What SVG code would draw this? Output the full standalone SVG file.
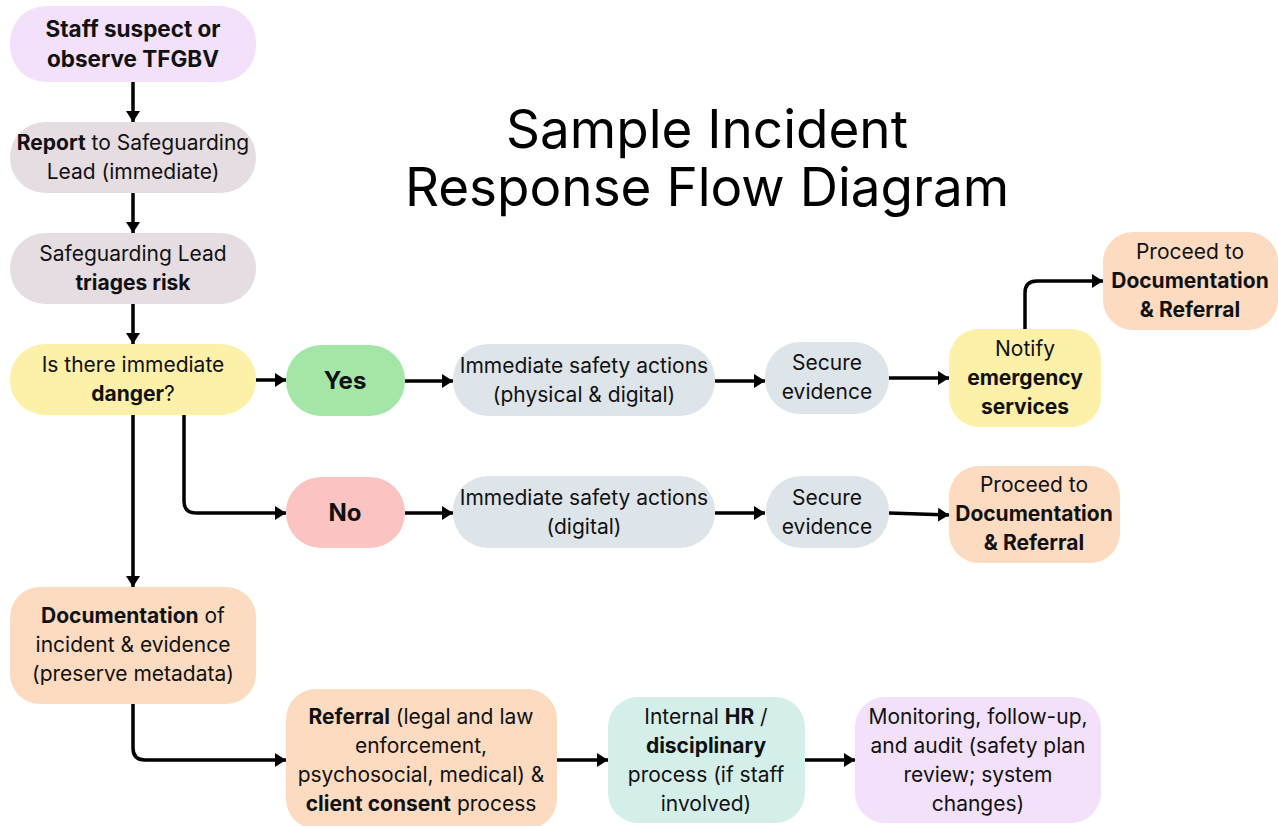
<svg xmlns="http://www.w3.org/2000/svg" width="1278" height="826" viewBox="0 0 1278 826">
<defs>
<marker id="ah" markerUnits="userSpaceOnUse" markerWidth="12" markerHeight="14" refX="11" refY="7" orient="auto">
<path d="M0,0 L11,7 L0,14 Z" fill="#000"/>
</marker>
<style>
text{font-family:Inter,"Noto Sans","Liberation Sans",sans-serif;font-size:21px;fill:#111;text-anchor:middle}
.b{font-weight:700}
.big{font-size:22.5px}
.yn{font-size:24px;font-weight:700}
.title{font-size:53px;fill:#000}
.c{fill:none;stroke:#000;stroke-width:3.5;marker-end:url(#ah)}
.purple{fill:#f3e1fb}
.grey{fill:#e6dde3}
.yellow{fill:#fdf0a8}
.green{fill:#a3e6a7}
.red{fill:#fcc3c3}
.blue{fill:#dee5ea}
.peach{fill:#fddbc0}
.teal{fill:#d4efea}
</style>
</defs>
<rect width="1278" height="826" fill="#fff"/>
<g id="title">
<text class="title" x="707" y="148">Sample Incident<tspan x="707" dy="58">Response Flow Diagram</tspan></text>
</g>
<g id="connectors">
<path class="c" d="M133 82 V122"/>
<path class="c" d="M133 193 V233"/>
<path class="c" d="M133 304 V344"/>
<path class="c" d="M256 380 H286"/>
<path class="c" d="M184 415 V501 Q184 513 196 513 H286"/>
<path class="c" d="M133 415 V587"/>
<path class="c" d="M405 381 H453"/>
<path class="c" d="M405 513 H453"/>
<path class="c" d="M715 381 H765"/>
<path class="c" d="M715 513 H765"/>
<path class="c" d="M889 378 H949"/>
<path class="c" d="M889 513 L949 515"/>
<path class="c" d="M1025 329 V293 Q1025 281 1037 281 H1103"/>
<path class="c" d="M133 704 V748 Q133 760 145 760 H286"/>
<path class="c" d="M557 760 H608"/>
<path class="c" d="M805 760 H855"/>
</g>
<g id="n1"><rect class="purple" x="10" y="6" width="246" height="76" rx="36"/>
<text class="b big" x="133" y="37">Staff suspect or</text><text class="b big" x="133" y="67">observe TFGBV</text></g>
<g id="n2"><rect class="grey" x="10" y="122" width="246" height="71" rx="35"/>
<text x="133" y="150"><tspan class="b">Report</tspan> to Safeguarding</text><text x="133" y="179">Lead (immediate)</text></g>
<g id="n3"><rect class="grey" x="10" y="233" width="246" height="71" rx="35"/>
<text x="133" y="261">Safeguarding Lead</text><text class="b" x="133" y="290">triages risk</text></g>
<g id="n4"><rect class="yellow" x="10" y="344" width="246" height="71" rx="35"/>
<text x="133" y="372">Is there immediate</text><text x="133" y="401"><tspan class="b">danger</tspan>?</text></g>
<g id="yes"><rect class="green" x="286" y="345" width="119" height="71" rx="35"/>
<text class="yn" x="345" y="389">Yes</text></g>
<g id="no"><rect class="red" x="286" y="477" width="119" height="71" rx="35"/>
<text class="yn" x="345" y="521">No</text></g>
<g id="act1"><rect class="blue" x="453" y="344" width="262" height="72" rx="35"/>
<text x="584" y="373">Immediate safety actions</text><text x="584" y="402">(physical &amp; digital)</text></g>
<g id="sec1"><rect class="blue" x="765" y="342" width="124" height="72" rx="35"/>
<text x="827" y="370">Secure</text><text x="827" y="399">evidence</text></g>
<g id="notify"><rect class="yellow" x="949" y="329" width="152" height="98" rx="30"/>
<text x="1025" y="356">Notify</text><text class="b" x="1025" y="385">emergency</text><text class="b" x="1025" y="414">services</text></g>
<g id="proc1"><rect class="peach" x="1103" y="232" width="175" height="98" rx="30"/>
<text x="1190" y="259">Proceed to</text><text class="b" x="1190" y="288">Documentation</text><text class="b" x="1190" y="317">&amp; Referral</text></g>
<g id="act2"><rect class="blue" x="453" y="476" width="262" height="72" rx="35"/>
<text x="584" y="505">Immediate safety actions</text><text x="584" y="534">(digital)</text></g>
<g id="sec2"><rect class="blue" x="766" y="476" width="123" height="72" rx="35"/>
<text x="827" y="505">Secure</text><text x="827" y="534">evidence</text></g>
<g id="proc2"><rect class="peach" x="949" y="466" width="171" height="97" rx="30"/>
<text x="1034" y="492">Proceed to</text><text class="b" x="1034" y="521">Documentation</text><text class="b" x="1034" y="550">&amp; Referral</text></g>
<g id="doc"><rect class="peach" x="10" y="587" width="246" height="117" rx="30"/>
<text x="133" y="623"><tspan class="b">Documentation</tspan> of</text><text x="133" y="652">incident &amp; evidence</text><text x="133" y="681">(preserve metadata)</text></g>
<g id="ref"><rect class="peach" x="286" y="689" width="271" height="140" rx="30"/>
<text x="421" y="724"><tspan class="b">Referral</tspan> (legal and law</text><text x="421" y="753">enforcement,</text><text x="421" y="782">psychosocial, medical) &amp;</text><text x="421" y="811"><tspan class="b">client consent</tspan> process</text></g>
<g id="hr"><rect class="teal" x="608" y="697" width="197" height="126" rx="30"/>
<text x="706" y="724">Internal <tspan class="b">HR</tspan> /</text><text class="b" x="706" y="753">disciplinary</text><text x="706" y="782">process (if staff</text><text x="706" y="811">involved)</text></g>
<g id="mon"><rect class="purple" x="855" y="697" width="246" height="126" rx="30"/>
<text x="978" y="724">Monitoring, follow-up,</text><text x="978" y="753">and audit (safety plan</text><text x="978" y="782">review; system</text><text x="978" y="811">changes)</text></g>
</svg>
